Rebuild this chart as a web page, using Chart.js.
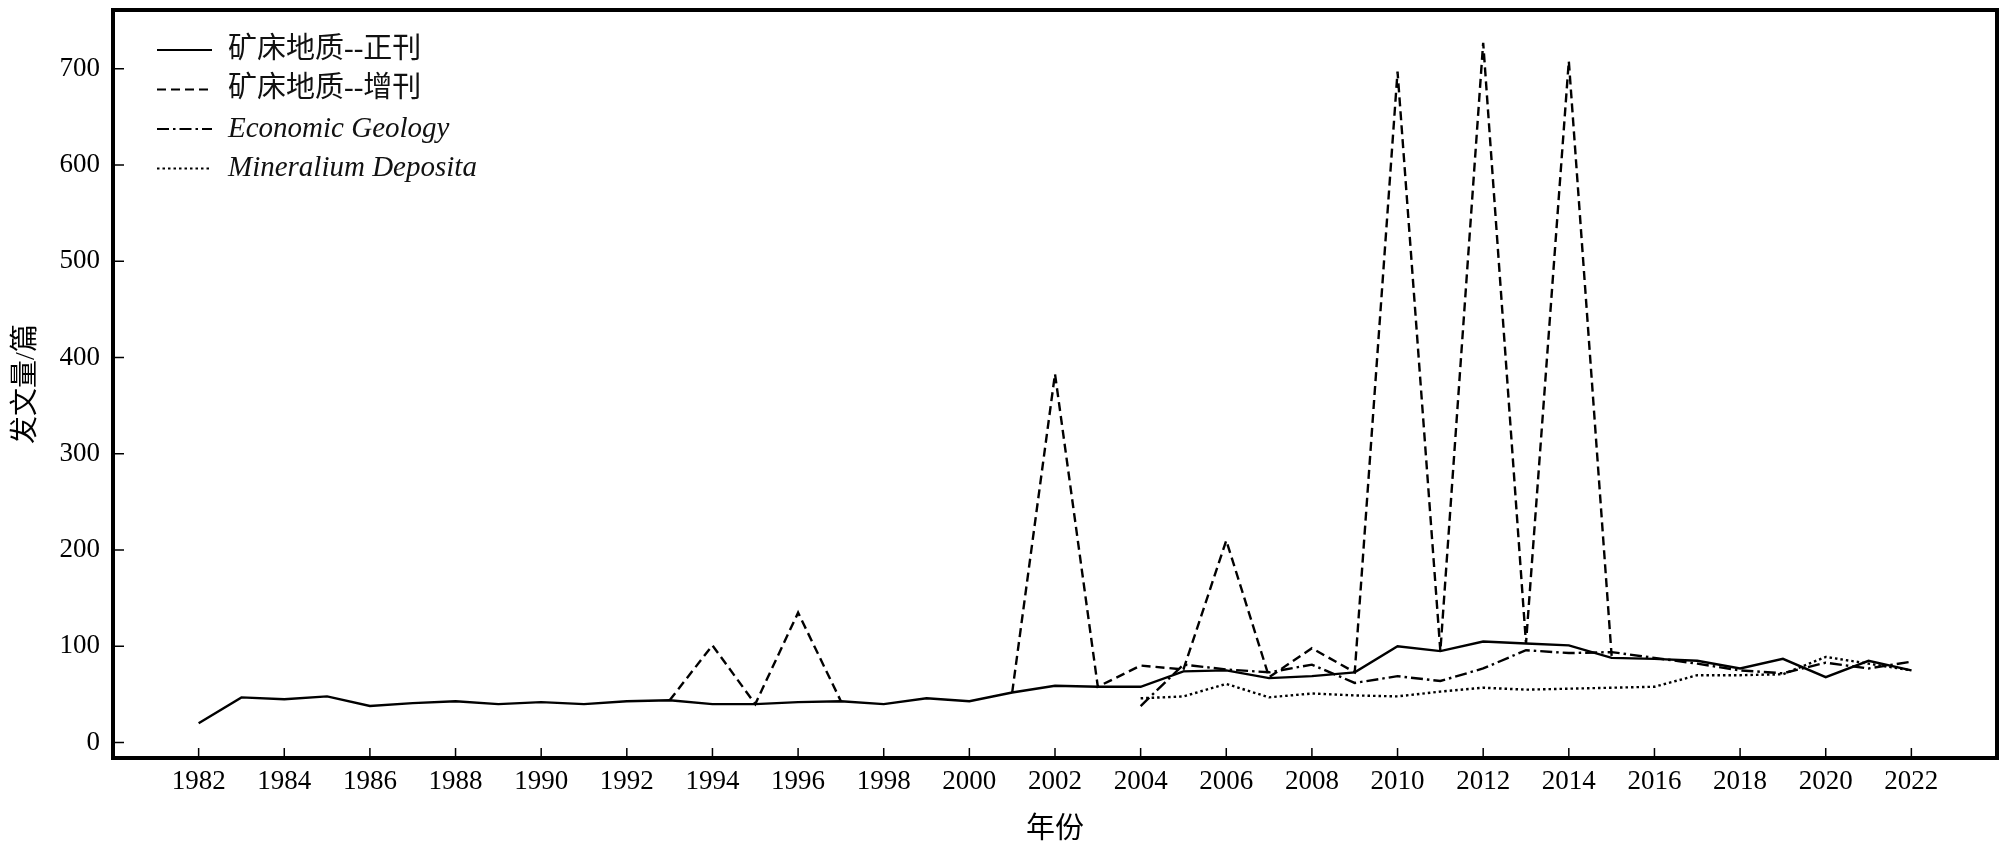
<!DOCTYPE html>
<html>
<head>
<meta charset="utf-8">
<script src="https://cdn.jsdelivr.net/npm/chart.js@4.4.1/dist/chart.umd.min.js"></script>
<style>
  html, body { margin: 0; padding: 0; background: #fff; }
  #wrap { width: 2008px; height: 851px; }
</style>
</head>
<body>
<div id="wrap"><canvas id="pubChart" width="2008" height="851"></canvas></div>
<script>
// --- Data (articles per year)
const years = [
  1982, 1983, 1984, 1985, 1986, 1987, 1988, 1989, 1990, 1991,
  1992, 1993, 1994, 1995, 1996, 1997, 1998, 1999, 2000, 2001,
  2002, 2003, 2004, 2005, 2006, 2007, 2008, 2009, 2010, 2011,
  2012, 2013, 2014, 2015, 2016, 2017, 2018, 2019, 2020, 2021,
  2022
];
const xTickYears = [1982, 1984, 1986, 1988, 1990, 1992, 1994, 1996, 1998, 2000, 2002,
                    2004, 2006, 2008, 2010, 2012, 2014, 2016, 2018, 2020, 2022];
const yTickValues = [0, 100, 200, 300, 400, 500, 600, 700];

const seriesNames = ['矿床地质--正刊', '矿床地质--增刊', 'Economic Geology', 'Mineralium Deposita'];

const mainIssue = [
  20, 47, 45, 48, 38, 41, 43, 40, 42, 40,
  43, 44, 40, 40, 42, 43, 40, 46, 43, 52,
  59, 58, 58, 74, 75, 67, 69, 73, 100, 95,
  105, 103, 101, 88, 87, 85, 77, 87, 68, 85,
  75
];
const supplement = [
  null, null, null, null, null, null, null, null, null, null,
  null, 44, 101, 40, 135, 43, null, null, null, 52,
  383, 58, 80, 76, 210, 68, 98, 73, 697, 95,
  727, 103, 708, 90, null, null, null, null, null, null,
  null
];
const economicGeology = [
  null, null, null, null, null, null, null, null, null, null,
  null, null, null, null, null, null, null, null, null, null,
  null, null, 38, 81, 76, 73, 81, 62, 69, 64,
  77, 96, 93, 94, 88, 82, 75, 72, 83, 77,
  84
];
const mineraliumDeposita = [
  null, null, null, null, null, null, null, null, null, null,
  null, null, null, null, null, null, null, null, null, null,
  null, null, 46, 48, 61, 47, 51, 49, 48, 53,
  57, 55, 56, 57, 58, 70, 70, 71, 89, 82,
  75
];

const toPoints = arr => years.map((yr, i) => ({ x: yr, y: arr[i] }));
const tickFont = { family: '"Liberation Serif", "Times New Roman", serif', size: 27 };
const cjkFont = '"Liberation Serif", "Noto Sans CJK SC", sans-serif';

// frame + inward tick marks
const frameAndTicks = {
  id: 'frameAndTicks',
  afterDatasetsDraw(chart) {
    const { ctx, chartArea: a, scales: { x, y } } = chart;
    ctx.save();
    ctx.strokeStyle = '#000';
    ctx.lineWidth = 1.5;
    ctx.beginPath();
    x.ticks.forEach(t => {
      const px = x.getPixelForValue(t.value);
      ctx.moveTo(px, a.bottom);
      ctx.lineTo(px, a.bottom - 10);
    });
    y.ticks.forEach(t => {
      const py = y.getPixelForValue(t.value);
      ctx.moveTo(a.left, py);
      ctx.lineTo(a.left + 11, py);
    });
    ctx.stroke();
    ctx.lineWidth = 4;
    ctx.strokeRect(a.left, a.top, a.right - a.left, a.bottom - a.top);
    ctx.restore();
  }
};

// legend inside the plot, top-left (English names in italics)
const insideLegend = {
  id: 'insideLegend',
  afterDraw(chart) {
    const { ctx, chartArea: a } = chart;
    ctx.save();
    chart.data.datasets.forEach((ds, i) => {
      const rowY = a.top + 40 + i * 39.5;
      ctx.strokeStyle = '#000';
      ctx.lineWidth = 2.2;
      ctx.setLineDash(ds.borderDash || []);
      ctx.beginPath();
      ctx.moveTo(a.left + 44, rowY);
      ctx.lineTo(a.left + 99, rowY);
      ctx.stroke();
      ctx.setLineDash([]);
      ctx.fillStyle = '#111';
      ctx.textBaseline = 'middle';
      ctx.font = i < 2 ? '29px ' + cjkFont : 'italic 29px "Liberation Serif", serif';
      ctx.fillText(ds.label, a.left + 115, rowY);
    });
    ctx.restore();
  }
};

const noScalePadding = s => { s.paddingTop = 0; s.paddingBottom = 0; s.paddingLeft = 0; s.paddingRight = 0; };

const ctx = document.getElementById('pubChart').getContext('2d');
new Chart(ctx, {
  type: 'line',
  data: {
    datasets: [
      { label: seriesNames[0], data: toPoints(mainIssue), borderDash: [] },
      { label: seriesNames[1], data: toPoints(supplement), borderDash: [9, 5] },
      { label: seriesNames[2], data: toPoints(economicGeology), borderDash: [12, 4, 2.5, 4] },
      { label: seriesNames[3], data: toPoints(mineraliumDeposita), borderDash: [2.5, 3] }
    ].map(ds => Object.assign(ds, {
      borderColor: '#000',
      backgroundColor: '#000',
      borderWidth: 2.4,
      pointRadius: 0,
      tension: 0,
      fill: false,
      spanGaps: false
    }))
  },
  options: {
    responsive: false,
    animation: false,
    layout: { padding: { top: 10, right: 11, left: 0, bottom: 0 } },
    plugins: {
      legend: { display: false },
      tooltip: { enabled: false }
    },
    scales: {
      x: {
        type: 'linear',
        min: 1980,
        max: 2024,
        afterBuildTicks: s => { s.ticks = xTickYears.map(v => ({ value: v })); },
        afterFit: s => { s.height = 93; noScalePadding(s); },
        grid: { display: false, drawTicks: false },
        border: { display: false },
        ticks: {
          padding: 8,
          autoSkip: false,
          maxRotation: 0,
          color: '#000',
          font: tickFont,
          callback: v => String(v)
        },
        title: {
          display: true,
          text: '年份',
          color: '#000',
          font: { family: cjkFont, size: 29 },
          padding: { top: 0, bottom: 3 }
        }
      },
      y: {
        type: 'linear',
        min: -16,
        max: 761,
        afterBuildTicks: s => { s.ticks = yTickValues.map(v => ({ value: v })); },
        afterFit: s => { s.width = 113; noScalePadding(s); },
        grid: { display: false, drawTicks: false },
        border: { display: false },
        ticks: { padding: 13, color: '#000', font: tickFont },
        title: {
          display: true,
          text: '发文量/篇',
          color: '#000',
          font: { family: cjkFont, size: 28 },
          padding: { top: 10, bottom: 0 }
        }
      }
    }
  },
  plugins: [frameAndTicks, insideLegend]
});
</script>
</body>
</html>
